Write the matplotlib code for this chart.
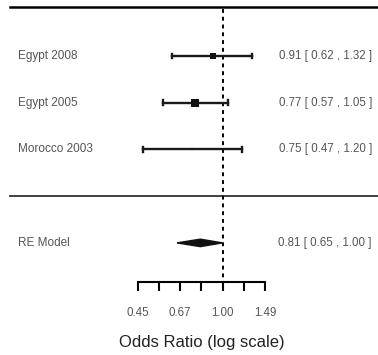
import numpy as np
import matplotlib.pyplot as plt
from matplotlib.patches import Polygon

# study data
studies = ["Egypt 2008", "Egypt 2005", "Morocco 2003"]
odds = [0.91, 0.77, 0.75]
ci_low = [0.62, 0.57, 0.47]
ci_high = [1.32, 1.05, 1.20]
weights = [0.5, 1.0, 0.1]

# random effects summary
re_label = "RE Model"
re_est = 0.81
re_low = 0.65
re_high = 1.00

tick_vals = [0.449, 0.549, 0.670, 0.819, 1.000, 1.221, 1.492]
tick_labels = ["0.45", "", "0.67", "", "1.00", "", "1.49"]

txt_col = '#555555'
fam = 'Liberation Sans'
rows = [3, 2, 1]
re_row = -1
x_left, x_right = 0.145, 4.09

fig = plt.figure(figsize=(3.78, 3.55), dpi=100)
ax = fig.add_axes([0, 0, 1, 1])
ax.set_xscale('log')
ax.set_xlim(0.1225, 4.33)
ax.set_ylim(-3.40, 4.20)

for sp in ['top', 'right', 'left']:
    ax.spines[sp].set_visible(False)
ax.set_yticks([])
ax.patch.set_visible(False)

# top and separator lines
ax.axhline(4.05, xmin=0.027, xmax=1, color='black', lw=1.8)
ax.axhline(0, xmin=0.027, xmax=1, color='#333333', lw=1.3)

# reference line at OR = 1
ax.plot([1, 1], [4.0, -1.83], color='black', lw=1.4, ls=(0, (2, 2)))

for r, name, o, lo, hi, w in zip(rows, studies, odds, ci_low, ci_high, weights):
    ax.plot([lo, hi], [r, r], color='#1a1a1a', lw=1.7)
    ax.plot([lo, lo], [r - 0.05, r + 0.05], color='#1a1a1a', lw=1.7)
    ax.plot([hi, hi], [r - 0.05, r + 0.05], color='#1a1a1a', lw=1.7)
    ax.plot(o, r, marker='s', color='#111111', ms=5.8 * np.sqrt(w), mew=0)
    ax.text(x_left, r, name, ha='left', va='center', fontsize=8.5, color=txt_col,
            family=fam)
    ax.text(x_right, r, f"{o:.2f} [ {lo:.2f} , {hi:.2f} ]", ha='right', va='center',
            fontsize=8.3, color=txt_col, family=fam)

# summary diamond
h = 0.08
diamond = Polygon([[re_low, re_row], [re_est, re_row + h], [re_high, re_row],
                   [re_est, re_row - h]], closed=True, color='#111111')
ax.add_patch(diamond)
ax.text(x_left, re_row, re_label, ha='left', va='center', fontsize=8.5, color=txt_col,
        family=fam)
ax.text(x_right, re_row, f"{re_est:.2f} [ {re_low:.2f} , {re_high:.2f} ]", ha='right',
        va='center', fontsize=8.3, color=txt_col, family=fam)

# x axis drawn like metafor
ax.spines['bottom'].set_position(('data', -1.83))
ax.spines['bottom'].set_bounds(tick_vals[0], tick_vals[-1])
ax.spines['bottom'].set_linewidth(1.5)
ax.xaxis.set_minor_locator(plt.NullLocator())
ax.set_xticks(tick_vals)
ax.set_xticklabels(tick_labels, fontsize=8.3, color=txt_col, family=fam)
ax.tick_params(axis='x', length=6.5, width=1.5, pad=12)
xl = ax.set_xlabel("Odds Ratio (log scale)", fontsize=12, color='#222222', family=fam)
xl.set_verticalalignment('center')
ax.xaxis.set_label_coords(0.533, 0.034)

fig.savefig("out.png", dpi=100)
